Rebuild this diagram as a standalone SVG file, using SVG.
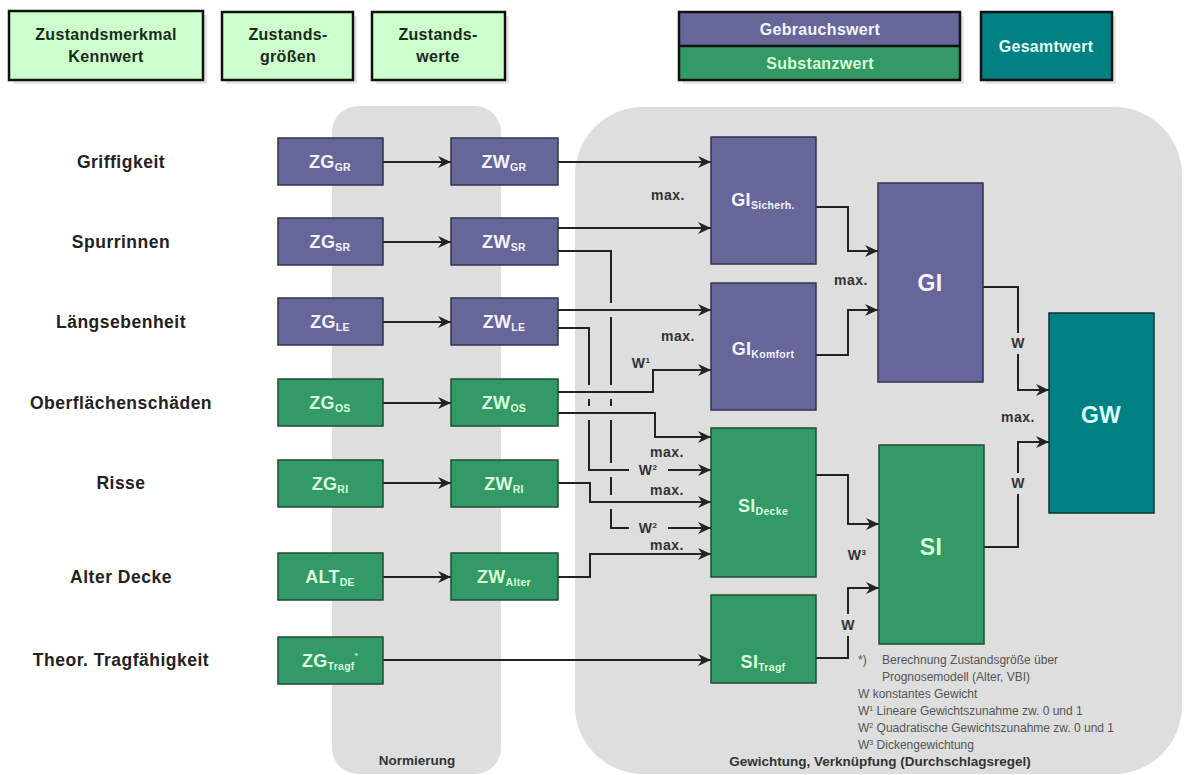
<svg xmlns="http://www.w3.org/2000/svg" width="1184" height="775" viewBox="0 0 1184 775">
<style>
text{font-family:"Liberation Sans",Arial,sans-serif;font-weight:bold;}
.hdr{fill:#ccffcc;stroke:#111;stroke-width:2.5;}
.hdrt{font-size:16px;fill:#1c2a1c;text-anchor:middle;letter-spacing:0.3px;}
.lbl{font-size:17.5px;fill:#222;text-anchor:middle;letter-spacing:0.5px;}
.pu{fill:#666699;stroke:#33334d;stroke-width:1.5;}
.gr{fill:#339966;stroke:#1e4d33;stroke-width:1.5;}
.te{fill:#008080;stroke:#0d3333;stroke-width:1.5;}
.bt{font-size:18px;text-anchor:middle;letter-spacing:0.3px;}
.wt{fill:#f4f4ff;}
.gt{fill:#d8ffd8;}
.ct{fill:#d8ffff;}
.sub{font-size:10.5px;}
.big{font-size:23px;}
.con{fill:none;stroke:#222;stroke-width:2;}
.ann{font-size:14px;fill:#333;text-anchor:middle;letter-spacing:0.5px;}
.leg{font-size:12px;fill:#555;font-weight:normal;}
.pan{fill:#dedede;}
.pl{font-size:13.5px;fill:#333;text-anchor:middle;}
.shd{fill:#e6e6e6;}
</style>
<defs>
<marker id="ar" markerUnits="userSpaceOnUse" markerWidth="14" markerHeight="12" refX="13" refY="6" orient="auto">
<path d="M0,0 L13,6 L0,12 L4,6 z" fill="#222"/>
</marker>
</defs>
<rect width="1184" height="775" fill="#ffffff"/>

<!-- panels -->
<g id="panel-normierung">
<rect class="pan" x="332" y="106" width="169" height="668" rx="26"/>
<text class="pl" x="417" y="765">Normierung</text>
</g>
<g id="panel-gewichtung">
<rect class="pan" x="575" y="107" width="607" height="667" rx="68"/>
<text class="pl" x="880" y="766">Gewichtung, Verknüpfung (Durchschlagsregel)</text>
</g>

<!-- header legend -->
<g id="hdr-kennwert">
<rect class="shd" x="13" y="15" width="194" height="69"/>
<rect class="hdr" x="9" y="11" width="194" height="69"/>
<text class="hdrt" x="106" y="40">Zustandsmerkmal</text>
<text class="hdrt" x="106" y="62">Kennwert</text>
</g>
<g id="hdr-groessen">
<rect class="shd" x="226" y="16" width="131" height="68"/>
<rect class="hdr" x="222" y="12" width="131" height="68"/>
<text class="hdrt" x="288" y="40">Zustands-</text>
<text class="hdrt" x="288" y="62">größen</text>
</g>
<g id="hdr-werte">
<rect class="shd" x="376" y="16" width="133" height="68"/>
<rect class="hdr" x="372" y="12" width="133" height="68"/>
<text class="hdrt" x="438" y="40">Zustands-</text>
<text class="hdrt" x="438" y="62">werte</text>
</g>
<g id="hdr-gebrauch-substanz">
<rect class="shd" x="683" y="16" width="281" height="68"/>
<rect x="679" y="12" width="281" height="34" fill="#666699"/>
<rect x="679" y="46" width="281" height="34" fill="#339966"/>
<rect x="679" y="12" width="281" height="68" fill="none" stroke="#111" stroke-width="2.5"/>
<line x1="679" y1="46" x2="960" y2="46" stroke="#111" stroke-width="2.5"/>
<text class="hdrt" x="820" y="35" style="fill:#f4f4ff">Gebrauchswert</text>
<text class="hdrt" x="820" y="69" style="fill:#d8ffd8">Substanzwert</text>
</g>
<g id="hdr-gesamt">
<rect class="shd" x="985" y="16" width="131" height="68"/>
<rect x="981" y="12" width="131" height="68" fill="#008080" stroke="#111" stroke-width="2.5"/>
<text class="hdrt" x="1046" y="52" style="fill:#e6ffff">Gesamtwert</text>
</g>

<!-- row labels -->
<g id="row-labels">
<text class="lbl" x="121" y="168">Griffigkeit</text>
<text class="lbl" x="121" y="248">Spurrinnen</text>
<text class="lbl" x="121" y="328">Längsebenheit</text>
<text class="lbl" x="121" y="409">Oberflächenschäden</text>
<text class="lbl" x="121" y="489">Risse</text>
<text class="lbl" x="121" y="583">Alter Decke</text>
<text class="lbl" x="121" y="666">Theor. Tragfähigkeit</text>
</g>

<!-- connectors -->
<g id="connectors" class="con">
<path d="M383,162 H451" marker-end="url(#ar)"/>
<path d="M383,242 H451" marker-end="url(#ar)"/>
<path d="M383,322 H451" marker-end="url(#ar)"/>
<path d="M383,403 H451" marker-end="url(#ar)"/>
<path d="M383,483 H451" marker-end="url(#ar)"/>
<path d="M383,577 H451" marker-end="url(#ar)"/>
<path d="M383,660 H711" marker-end="url(#ar)"/>
<path d="M558,162 H711" marker-end="url(#ar)"/>
<path d="M558,228 H711" marker-end="url(#ar)"/>
<path d="M558,251 H611 V303 M611,317 V385 M611,399 V406 M611,420 V463 M611,477 V495 M611,509 V528 H629"/>
<path d="M668,528 H711" marker-end="url(#ar)"/>
<path d="M558,310 H711" marker-end="url(#ar)"/>
<path d="M558,328 H589 V385 M589,399 V406 M589,420 V470 H629"/>
<path d="M668,470 H711" marker-end="url(#ar)"/>
<path d="M558,392 H653 V370 H711" marker-end="url(#ar)"/>
<path d="M558,413 H655 V437 H711" marker-end="url(#ar)"/>
<path d="M558,483 H590 V502 H711" marker-end="url(#ar)"/>
<path d="M558,577 H590 V554 H711" marker-end="url(#ar)"/>
<path d="M816,207 H848 V251 H878" marker-end="url(#ar)"/>
<path d="M816,355 H848 V310 H878" marker-end="url(#ar)"/>
<path d="M816,475 H848 V524 H879" marker-end="url(#ar)"/>
<path d="M816,658 H848 V636"/>
<path d="M848,614 V588 H879" marker-end="url(#ar)"/>
<path d="M983,287 H1018 V333"/>
<path d="M1018,354 V390 H1049" marker-end="url(#ar)"/>
<path d="M984,547 H1018 V494"/>
<path d="M1018,473 V442 H1049" marker-end="url(#ar)"/>
</g>

<!-- connector annotations -->
<g id="annotations">
<text class="ann" x="668" y="200">max.</text>
<text class="ann" x="851" y="285">max.</text>
<text class="ann" x="678" y="341">max.</text>
<text class="ann" x="641" y="368">W<tspan font-size="8" dy="-5">1</tspan></text>
<text class="ann" x="667" y="457">max.</text>
<text class="ann" x="648" y="475">W<tspan font-size="8" dy="-5">2</tspan></text>
<text class="ann" x="667" y="495">max.</text>
<text class="ann" x="648" y="533">W<tspan font-size="8" dy="-5">2</tspan></text>
<text class="ann" x="667" y="550">max.</text>
<text class="ann" x="857" y="560">W<tspan font-size="8" dy="-5">3</tspan></text>
<text class="ann" x="848" y="630">W</text>
<text class="ann" x="1018" y="348">W</text>
<text class="ann" x="1018" y="422">max.</text>
<text class="ann" x="1018" y="488">W</text>
</g>

<!-- ZG column -->
<g id="zg-gr"><rect class="pu" x="278" y="138" width="105" height="47"/><text class="bt wt" x="330" y="168">ZG<tspan class="sub" dy="3">GR</tspan></text></g>
<g id="zg-sr"><rect class="pu" x="278" y="218" width="105" height="47"/><text class="bt wt" x="330" y="248">ZG<tspan class="sub" dy="3">SR</tspan></text></g>
<g id="zg-le"><rect class="pu" x="278" y="298" width="105" height="47"/><text class="bt wt" x="330" y="328">ZG<tspan class="sub" dy="3">LE</tspan></text></g>
<g id="zg-os"><rect class="gr" x="278" y="379" width="105" height="47"/><text class="bt gt" x="330" y="409">ZG<tspan class="sub" dy="3">OS</tspan></text></g>
<g id="zg-ri"><rect class="gr" x="278" y="460" width="105" height="47"/><text class="bt gt" x="330" y="490">ZG<tspan class="sub" dy="3">RI</tspan></text></g>
<g id="alt-de"><rect class="gr" x="278" y="553" width="105" height="47"/><text class="bt gt" x="330" y="583">ALT<tspan class="sub" dy="3">DE</tspan></text></g>
<g id="zg-tragf"><rect class="gr" x="278" y="637" width="105" height="47"/><text class="bt gt" x="330" y="667">ZG<tspan class="sub" dy="3">Tragf</tspan><tspan font-size="8" dy="-12">*</tspan></text></g>

<!-- ZW column -->
<g id="zw-gr"><rect class="pu" x="451" y="138" width="107" height="47"/><text class="bt wt" x="504" y="168">ZW<tspan class="sub" dy="3">GR</tspan></text></g>
<g id="zw-sr"><rect class="pu" x="451" y="218" width="107" height="47"/><text class="bt wt" x="504" y="248">ZW<tspan class="sub" dy="3">SR</tspan></text></g>
<g id="zw-le"><rect class="pu" x="451" y="298" width="107" height="47"/><text class="bt wt" x="504" y="328">ZW<tspan class="sub" dy="3">LE</tspan></text></g>
<g id="zw-os"><rect class="gr" x="451" y="379" width="107" height="47"/><text class="bt gt" x="504" y="409">ZW<tspan class="sub" dy="3">OS</tspan></text></g>
<g id="zw-ri"><rect class="gr" x="451" y="460" width="107" height="47"/><text class="bt gt" x="504" y="490">ZW<tspan class="sub" dy="3">RI</tspan></text></g>
<g id="zw-alter"><rect class="gr" x="451" y="553" width="107" height="47"/><text class="bt gt" x="504" y="583">ZW<tspan class="sub" dy="3">Alter</tspan></text></g>

<!-- index boxes -->
<g id="gi-sicherh"><rect class="pu" x="711" y="137" width="105" height="127"/><text class="bt wt" x="763" y="206">GI<tspan class="sub" dy="3">Sicherh.</tspan></text></g>
<g id="gi-komfort"><rect class="pu" x="711" y="283" width="105" height="127"/><text class="bt wt" x="763" y="355">GI<tspan class="sub" dy="3">Komfort</tspan></text></g>
<g id="si-decke"><rect class="gr" x="711" y="428" width="105" height="149"/><text class="bt gt" x="763" y="512">SI<tspan class="sub" dy="3">Decke</tspan></text></g>
<g id="si-tragf"><rect class="gr" x="711" y="595" width="105" height="88"/><text class="bt gt" x="763" y="668">SI<tspan class="sub" dy="3">Tragf</tspan></text></g>
<g id="gi"><rect class="pu" x="878" y="183" width="105" height="199"/><text class="bt wt big" x="930" y="291">GI</text></g>
<g id="si"><rect class="gr" x="879" y="445" width="105" height="199"/><text class="bt gt big" x="931" y="555">SI</text></g>
<g id="gw"><rect class="te" x="1049" y="313" width="105" height="200"/><text class="bt ct big" x="1101" y="423">GW</text></g>

<!-- footnote legend -->
<g id="footnote">
<text class="leg" x="858" y="664">*)</text>
<text class="leg" x="882" y="664">Berechnung Zustandsgröße über</text>
<text class="leg" x="882" y="681">Prognosemodell (Alter, VBI)</text>
<text class="leg" x="858" y="698">W  konstantes Gewicht</text>
<text class="leg" x="858" y="715">W<tspan font-size="7" dy="-4">1</tspan><tspan dy="4"> Lineare Gewichtszunahme zw. 0 und 1</tspan></text>
<text class="leg" x="858" y="732">W<tspan font-size="7" dy="-4">2</tspan><tspan dy="4"> Quadratische Gewichtszunahme zw. 0 und 1</tspan></text>
<text class="leg" x="858" y="749">W<tspan font-size="7" dy="-4">3</tspan><tspan dy="4"> Dickengewichtung</tspan></text>
</g>
</svg>
